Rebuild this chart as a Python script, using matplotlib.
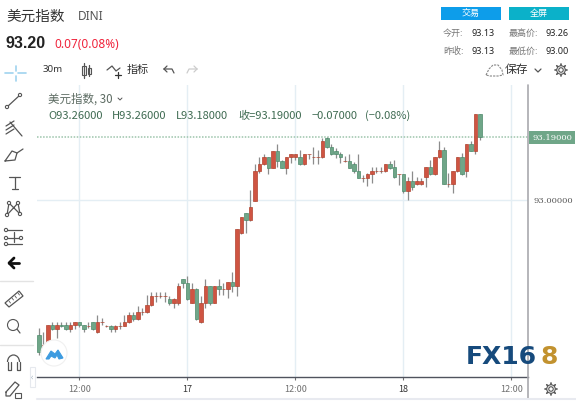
import numpy as np
import matplotlib
matplotlib.use('Agg')
import matplotlib.pyplot as plt
from matplotlib.patches import Circle, Polygon, Rectangle, Arc

plt.rcParams['font.family'] = ['Noto Sans CJK SC', 'DejaVu Sans']

# 30 minute candles
opens = [92.593, 92.542, 92.562, 92.622, 92.611, 92.622, 92.622, 92.611, 92.622, 92.631,
         92.622, 92.621, 92.631, 92.602, 92.633, 92.621, 92.621, 92.611, 92.621, 92.621,
         92.631, 92.652, 92.640, 92.662, 92.662, 92.682, 92.711, 92.711, 92.711, 92.701,
         92.690, 92.690, 92.761, 92.751, 92.690, 92.731, 92.631, 92.690, 92.741, 92.690,
         92.741, 92.732, 92.731, 92.752, 92.741, 92.900, 92.960, 92.940, 92.998, 93.087,
         93.108, 93.129, 93.097, 93.149, 93.119, 93.097, 93.129, 93.129, 93.129, 93.108,
         93.139, 93.129, 93.129, 93.129, 93.188, 93.159, 93.149, 93.139, 93.119, 93.119,
         93.108, 93.087, 93.067, 93.067, 93.078, 93.087, 93.087, 93.087, 93.108, 93.099,
         93.078, 93.078, 93.028, 93.058, 93.048, 93.048, 93.068, 93.099, 93.078, 93.129,
         93.150, 93.048, 93.048, 93.087, 93.129, 93.087, 93.168, 93.149, 93.260]
highs = [92.614, 92.602, 92.623, 92.632, 92.632, 92.632, 92.632, 92.632, 92.632, 92.632,
         92.623, 92.631, 92.633, 92.653, 92.644, 92.623, 92.623, 92.623, 92.632, 92.653,
         92.662, 92.662, 92.681, 92.674, 92.713, 92.722, 92.722, 92.722, 92.722, 92.710,
         92.704, 92.751, 92.761, 92.771, 92.749, 92.735, 92.710, 92.762, 92.741, 92.741,
         92.762, 92.749, 92.752, 92.782, 92.912, 92.949, 92.962, 93.030, 93.109, 93.129,
         93.139, 93.129, 93.149, 93.169, 93.121, 93.129, 93.139, 93.139, 93.151, 93.139,
         93.139, 93.159, 93.151, 93.186, 93.191, 93.168, 93.156, 93.146, 93.133, 93.139,
         93.116, 93.139, 93.075, 93.081, 93.099, 93.099, 93.100, 93.108, 93.119, 93.121,
         93.078, 93.078, 93.070, 93.087, 93.070, 93.065, 93.099, 93.121, 93.129, 93.179,
         93.159, 93.081, 93.087, 93.129, 93.141, 93.168, 93.179, 93.260, 93.260]
lows = [92.533, 92.541, 92.560, 92.608, 92.584, 92.617, 92.608, 92.602, 92.611, 92.617,
        92.602, 92.614, 92.608, 92.600, 92.623, 92.617, 92.602, 92.602, 92.611, 92.620,
        92.629, 92.635, 92.638, 92.653, 92.660, 92.681, 92.693, 92.704, 92.693, 92.683,
        92.674, 92.683, 92.734, 92.698, 92.688, 92.638, 92.630, 92.674, 92.683, 92.689,
        92.713, 92.713, 92.704, 92.723, 92.711, 92.897, 92.901, 92.938, 92.998, 93.082,
        93.106, 93.078, 93.096, 93.099, 93.096, 93.078, 93.111, 93.121, 93.106, 93.106,
        93.123, 93.108, 93.109, 93.127, 93.157, 93.136, 93.126, 93.111, 93.116, 93.096,
        93.081, 93.066, 93.055, 93.042, 93.050, 93.081, 93.081, 93.086, 93.095, 93.067,
        93.045, 93.020, 93.000, 93.030, 93.045, 93.046, 93.040, 93.075, 93.075, 93.127,
        93.047, 93.040, 93.020, 93.086, 93.075, 93.070, 93.148, 93.139, 93.180]
closes = [92.542, 92.562, 92.622, 92.611, 92.622, 92.621, 92.611, 92.622, 92.631, 92.622,
          92.611, 92.621, 92.611, 92.631, 92.633, 92.621, 92.611, 92.621, 92.621, 92.631,
          92.652, 92.640, 92.662, 92.662, 92.682, 92.711, 92.711, 92.711, 92.711, 92.690,
          92.701, 92.741, 92.751, 92.701, 92.731, 92.640, 92.690, 92.741, 92.690, 92.741,
          92.731, 92.732, 92.752, 92.741, 92.912, 92.949, 92.940, 92.978, 93.087, 93.108,
          93.129, 93.097, 93.149, 93.119, 93.097, 93.129, 93.139, 93.139, 93.108, 93.139,
          93.139, 93.129, 93.129, 93.179, 93.159, 93.139, 93.139, 93.129, 93.119, 93.097,
          93.087, 93.067, 93.067, 93.078, 93.087, 93.087, 93.087, 93.108, 93.097, 93.068,
          93.078, 93.028, 93.058, 93.038, 93.058, 93.058, 93.099, 93.078, 93.129, 93.150,
          93.048, 93.048, 93.087, 93.129, 93.078, 93.168, 93.149, 93.260, 93.190]

time_ticks = [9, 33, 57, 81, 105]
time_labels = ['12:00', '17', '12:00', '18', '12:00']
price_ticks = [93.00]
last_price = 93.19

W, H = 576, 401
fig = plt.figure(figsize=(W / 100, H / 100), dpi=100, facecolor='white')

# main price panel
ax = fig.add_axes([37 / W, 1 - 377 / H, (528 - 37) / W, (377 - 85) / H])
ax.set_xlim(-0.444, 108.67)
ax.set_ylim(92.466, 93.347)
for s in ['top', 'left', 'right']:
    ax.spines[s].set_visible(False)
ax.spines['bottom'].set_color('#50535e')
ax.spines['bottom'].set_linewidth(1.0)

x = np.arange(len(opens))
o = np.array(opens)
c = np.array(closes)
up = c >= o
colors = np.where(up, '#cf5442', '#6fa688')
edges = np.where(up, '#b0432f', '#4d8a6b')

ax.set_xticks(time_ticks)
ax.set_xticklabels(time_labels, fontsize=6.5, color='#707070')
ax.get_xticklabels()[1].set_color('#333333')
ax.get_xticklabels()[3].set_color('#333333')
ax.set_yticks(price_ticks)
ax.set_yticklabels(['93.00000'], fontsize=6, color='#555555', family='DejaVu Serif')
ax.yaxis.tick_right()
ax.tick_params(axis='x', length=2, color='#707070', pad=4)
ax.tick_params(axis='y', length=0, pad=4)
ax.grid(True, color='#e4eef4', lw=1.0)
ax.set_axisbelow(True)

ax.axhline(last_price, color='#9cc4ab', lw=1.1, ls=(0, (1, 1)), zorder=1)
ax.vlines(x, lows, highs, color='#8c8c8c', lw=0.9, zorder=2)
ax.bar(x, c - o, bottom=o, width=0.78, color=colors, edgecolor=edges, lw=0.5, zorder=3)

# everything around the chart, drawn in picture coordinates
ov = fig.add_axes([0, 0, 1, 1], facecolor='none')
ov.set_xlim(0, W)
ov.set_ylim(H, 0)
ov.axis('off')

ICON = '#555555'


def seg(pts, color=ICON, lw=0.9):
    xs, ys = zip(*pts)
    ov.plot(xs, ys, color=color, lw=lw, solid_capstyle='round')


def ring(cx, cy, r=1.6, color=ICON, lw=0.8):
    ov.add_patch(Circle((cx, cy), r, fill=True, fc='white', ec=color, lw=lw, zorder=5))


def gear(cx, cy, r=5):
    ring(cx, cy, r * 0.85)
    ring(cx, cy, r * 0.45)
    for a in np.arange(0, 2 * np.pi, np.pi / 4):
        seg([(cx + r * 0.85 * np.cos(a), cy + r * 0.85 * np.sin(a)),
             (cx + r * 1.2 * np.cos(a), cy + r * 1.2 * np.sin(a))], lw=1.2)


# panel borders
seg([(528, 85), (528, 398)], color='#a9a9ae', lw=1.2)
seg([(0, 281), (33, 281)], color='#e3e3e3', lw=1)
seg([(0, 345), (33, 345)], color='#e3e3e3', lw=1)
seg([(37, 399), (576, 399)], color='#e8eaf0', lw=1.5)
ov.add_patch(Rectangle((30, 367), 4.5, 20, fc='white', ec='#e6e9ee', lw=0.8))
ov.text(32.3, 377, '‹', fontsize=6, color='#9ab', ha='center', va='center')

# header
ov.text(6, 17, '美元指数', fontsize=10.5, color='#333333', va='center')
ov.text(78, 17, 'DINI', fontsize=8.5, color='#555555', va='center', family='Noto Sans')
ov.text(6, 44, '93.20', fontsize=11.5, color='#222222', va='center', weight='bold', family='Liberation Sans')
ov.text(54, 44, '0.07(0.08%)', fontsize=8.5, color='#f0243c', va='center', family='Noto Sans')

ov.add_patch(Rectangle((441, 7), 60, 13, fc='#0d9dea', ec='none'))
ov.add_patch(Rectangle((509, 7), 60, 13, fc='#0bb1c9', ec='none'))
ov.text(471, 13.5, '交易', fontsize=6.5, color='white', ha='center', va='center')
ov.text(539, 13.5, '全屏', fontsize=6.5, color='white', ha='center', va='center')
for lx, vx, ly, lab, val in [(443, 471, 33, '今开:', '93.13'), (443, 471, 51, '昨收:', '93.13'),
                             (509, 546, 33, '最高价:', '93.26'), (509, 546, 51, '最低价:', '93.00')]:
    ov.text(lx, ly, lab, fontsize=6.5, color='#777777', va='center')
    ov.text(vx, ly, val, fontsize=6.5, color='#222222', va='center', family='Noto Sans')

# toolbar
ov.text(43, 70, '30m', fontsize=7, color='#333333', va='center', family='Noto Sans')
ov.add_patch(Rectangle((82, 66), 3.5, 9, fill=False, ec=ICON, lw=0.8))
ov.add_patch(Rectangle((87.5, 67.5), 3, 6, fill=False, ec=ICON, lw=0.8))
seg([(83.7, 63), (83.7, 78)])
seg([(89, 65), (89, 76)])
seg([(107, 70), (112, 66), (116, 71), (120, 68)])
seg([(118, 72), (118, 78)], color='#333333')
seg([(115, 75), (121, 75)], color='#333333')
ov.text(127, 70, '指标', fontsize=8, color='#333333', va='center')
seg([(164, 69), (172, 69), (174, 73)])
seg([(164, 69), (167, 66)])
seg([(164, 69), (167, 72)])
seg([(197, 69), (189, 69), (187, 73)], color='#cccccc')
seg([(197, 69), (194, 66)], color='#cccccc')
seg([(197, 69), (194, 72)], color='#cccccc')
ov.plot([486, 489, 493, 498, 502, 503, 498, 490, 486], [75, 69, 65, 65, 70, 75, 76, 76, 75],
        color='#888888', lw=0.8, ls=(0, (2, 1)))
ov.text(505, 70, '保存', fontsize=8.5, color='#333333', va='center')
seg([(535, 69), (538, 72), (541, 69)])
gear(561, 70)

# drawing tools on the left
blue = '#9fd3ef'
seg([(5, 73), (13, 73)], color=blue, lw=1.2)
seg([(18, 73), (26, 73)], color=blue, lw=1.2)
seg([(15.5, 66), (15.5, 71)], color=blue, lw=1.2)
seg([(15.5, 76), (15.5, 81)], color=blue, lw=1.2)
seg([(7, 107), (20, 95)])
ring(7, 107)
ring(20, 95)
for dy in [0, 4, 8]:
    seg([(6, 130 + dy - 4), (14, 122 + dy - 1)])
seg([(10, 122), (22, 136)])
seg([(5, 161), (12, 151), (17, 153), (15, 160), (5, 161)])
seg([(17, 153), (23, 149)])
seg([(9, 177), (20, 177)])
seg([(14.5, 177), (14.5, 188)])
seg([(11.5, 189), (17.5, 189)])
seg([(7, 215), (9, 203), (20, 214), (18, 203), (7, 215)])
for p in [(7, 215), (9, 203), (20, 214), (18, 203)]:
    ring(*p)
for yy in [230, 238, 244]:
    seg([(6, yy), (22, yy)])
    ring(6, yy)
seg([(14, 232), (14, 242)])
ring(21, 238)
seg([(9, 263), (19, 263)], color='#111111', lw=2)
seg([(14, 258), (9, 263), (14, 268)], color='#111111', lw=2)
ov.add_patch(Polygon([(5, 303), (19, 291), (23, 296), (9, 307)], fill=False, ec=ICON, lw=0.9))
for tx, ty in [(9, 301), (12, 298), (15, 296), (18, 293)]:
    seg([(tx, ty), (tx + 1.5, ty + 2)], lw=0.6)
ring(13, 325, 5.5)
seg([(11, 325), (15, 325)])
seg([(13, 323), (13, 327)])
seg([(17, 329), (20, 333)])
ov.add_patch(Arc((13.5, 362), 12, 14, theta1=180, theta2=360, ec=ICON, lw=0.9))
seg([(7.5, 362), (7.5, 370), (10.5, 370), (10.5, 362)])
seg([(19.5, 362), (19.5, 370), (16.5, 370), (16.5, 362)])
seg([(6, 392), (15, 382), (19, 385), (10, 396), (6, 396), (6, 392)])
ov.add_patch(Rectangle((15, 393), 6, 5, fill=False, ec=ICON, lw=0.8))

# chart legend
ov.text(48, 99, '美元指数, 30', fontsize=8.3, color='#5c6b62', va='center')
seg([(118, 98), (120, 100), (122, 98)], lw=0.7)
leg = '#3f6b52'
for lx, s in [(48, 'O93.26000'), (112, 'H93.26000'), (176, 'L93.18000'), (238, '收=93.19000'),
              (312, '−0.07000'), (365, '(−0.08%)')]:
    ov.text(lx, 116, s, fontsize=8, color=leg, va='center', family=['Noto Sans CJK SC', 'DejaVu Sans'])

# last price tag
ov.add_patch(Rectangle((529, 131), 46, 13, fc='#6fa688', ec='none'))
ov.text(552, 137.5, '93.19000', fontsize=6, color='white', ha='center', va='center', family='DejaVu Serif')

# blue logo bottom left
ov.add_patch(Circle((54, 353), 13, fc='white', ec='#f0f0f0', lw=0.8, zorder=6))
ov.add_patch(Polygon([(46, 359), (51, 351), (55, 354), (58, 350), (63, 358), (59, 359), (57, 355), (55, 358), (51, 356), (49, 359)],
                     fc='#3d9be0', ec='#3d9be0', lw=0.8, zorder=7))

# watermark
ov.text(466, 357, 'FX16', fontsize=18, color='#164a7c', va='center', weight='bold', family='DejaVu Sans', zorder=8)
ov.text(541, 357, '8', fontsize=18, color='#c2922f', va='center', weight='bold', family='DejaVu Sans', zorder=8)
gear(551, 389)

fig.savefig('out.png', dpi=100)
